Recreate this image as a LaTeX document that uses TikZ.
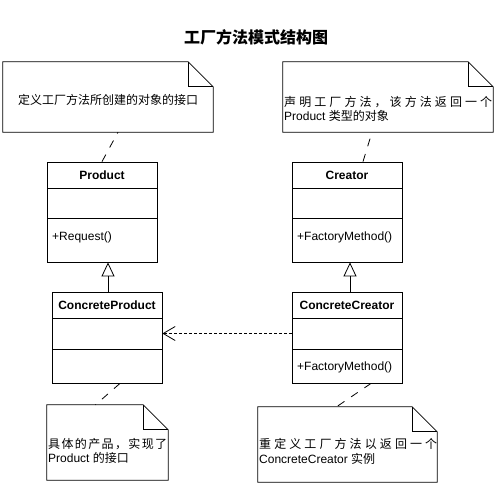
\documentclass[tikz,border=0pt]{standalone}
\usepackage{fontspec}
\setmainfont{Liberation Sans}
\newfontfamily\cjk{Noto Sans CJK SC}
\usetikzlibrary{arrows.meta}
\newcommand\foldnote[1]{%
  \draw[line width=0.8pt,fill=white] (#1.south west) -- (#1.north west) -- ([xshift=-25pt]#1.north east) -- ([yshift=-25pt]#1.north east) -- (#1.south east) -- cycle;
  \draw[line width=0.8pt] ([xshift=-25pt]#1.north east) -- ([xshift=-25pt,yshift=-25pt]#1.north east) -- ([yshift=-25pt]#1.north east);}
\begin{document}
\begin{tikzpicture}[x=1pt,y=-1pt,
  every node/.style={font=\fontsize{12}{14}\selectfont, inner sep=0pt},
  comp/.style={draw, fill=white, minimum width=110pt, line width=0.8pt},
  notebox/.style={inner sep=0pt},
  notelink/.style={line width=0.8pt, dash pattern=on 8pt off 8pt},
  inherit/.style={line width=0.8pt, -{Triangle[open,length=14pt,width=13pt]}},
  depend/.style={line width=0.8pt, dash pattern=on 3pt off 2pt, -{Straight Barb[length=12pt,width=14pt]}}]
\useasboundingbox[fill=white] (0,0) rectangle (495,485);

\node[font=\fontsize{16}{18}\selectfont\cjk\bfseries] (title) at (256,37) {工厂方法模式结构图};

% notes
\node[notebox, minimum width=210pt, minimum height=70pt] (n1) at (108,97) {};
\node[notebox, minimum width=210pt, minimum height=70pt] (n2) at (388,97) {};
\node[notebox, minimum width=121pt, minimum height=75pt] (n3) at (107.5,442.5) {};
\node[notebox, minimum width=179pt, minimum height=75pt] (n4) at (347.5,444.5) {};
\foldnote{n1}
\foldnote{n2}
\foldnote{n3}
\foldnote{n4}

\node (t1) at (108,100) {\cjk 定义工厂方法所创建的对象的接口};
\node[anchor=west] (t2a) at (284,102) {\makebox[208pt][l]{\cjk 声\hfill 明\hfill 工\hfill 厂\hfill 方\hfill 法\hfill ，\hfill 该\hfill 方\hfill 法\hfill 返\hfill 回\hfill 一\hfill 个}};
\node[anchor=west] (t2b) at (284,116) {Product {\cjk 类型的对象}};
\node[anchor=west] (t3a) at (48,444) {\makebox[119pt][l]{\cjk 具\hfill 体\hfill 的\hfill 产\hfill 品\hfill ，\hfill 实\hfill 现\hfill 了}};
\node[anchor=west] (t3b) at (48,458) {Product {\cjk 的接口}};
\node[anchor=west] (t4a) at (259,444) {\makebox[178pt][l]{\cjk 重\hfill 定\hfill 义\hfill 工\hfill 厂\hfill 方\hfill 法\hfill 以\hfill 返\hfill 回\hfill 一\hfill 个}};
\node[anchor=west] (t4b) at (259,459) {ConcreteCreator {\cjk 实例}};

% classes
\node[comp, minimum height=26pt] (p) at (102,175) {\bfseries Product};
\node[comp, minimum height=30pt] (pa) at (102,203) {};
\node[comp, minimum height=44pt] (pm) at (102,240) {};
\node[anchor=west] (pmt) at (52,237) {+Request()};

\node[comp, minimum height=26pt] (c) at (347,175) {\bfseries Creator};
\node[comp, minimum height=30pt] (ca) at (347,203) {};
\node[comp, minimum height=44pt] (cm) at (347,240) {};
\node[anchor=west] (cmt) at (297,237) {+FactoryMethod()};

\node[comp, minimum height=26pt] (cp) at (107,305) {\bfseries ConcreteProduct};
\node[comp, minimum height=31pt] (cpa) at (107,333.5) {};
\node[comp, minimum height=34pt] (cpm) at (107,366) {};

\node[comp, minimum height=26pt] (cc) at (347,305) {\bfseries ConcreteCreator};
\node[comp, minimum height=31pt] (cca) at (347,333.5) {};
\node[comp, minimum height=34pt] (ccm) at (347,366) {};
\node[anchor=west] (ccmt) at (297,367) {+FactoryMethod()};

% connectors
\draw[inherit] ([xshift=1pt]cp.north) -- ([xshift=1pt]cp.north |- pm.south);
\draw[inherit] ([xshift=3pt]cc.north) -- ([xshift=3pt]cm.south);
\draw[depend] (cca.west) -- (cpa.east);

\draw[notelink] (p.north) -- ([xshift=10pt]n1.south);
\draw[notelink] ([xshift=16pt]c.north) -- ([xshift=-16pt]n2.south);
\draw[notelink] ([xshift=13pt]cpm.south) -- ([xshift=-12pt]n3.north);
\draw[notelink] ([xshift=24pt]ccm.south) -- ([xshift=-11pt]n4.north);
\end{tikzpicture}
\end{document}
